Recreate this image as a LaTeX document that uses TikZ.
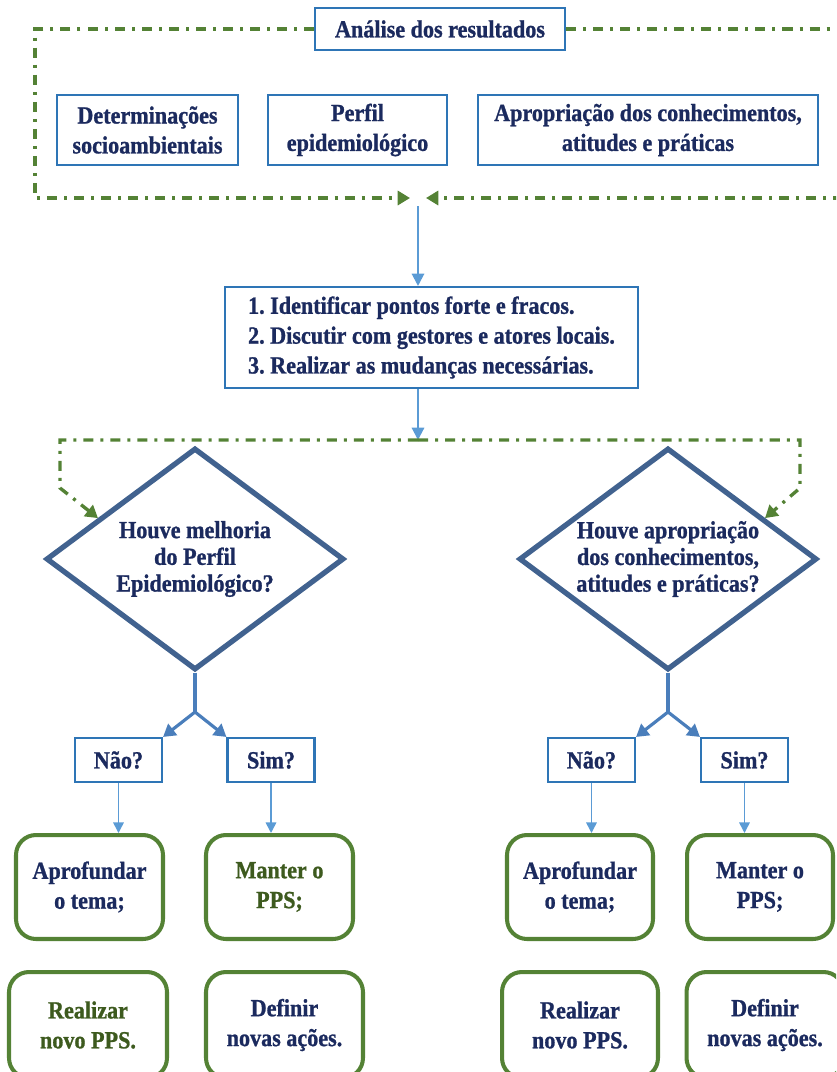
\documentclass[tikz,border=0pt]{standalone}
\usepackage{fontspec}
\setmainfont{Liberation Serif}[FakeStretch=0.9, BoldFeatures={FakeBold=1}]
\usetikzlibrary{shapes.geometric,arrows.meta,calc}
\definecolor{navy}{HTML}{1B2A5E}
\definecolor{boxblue}{HTML}{2E75B6}
\definecolor{dmblue}{HTML}{41628F}
\definecolor{stemblue}{HTML}{4A7EBB}
\definecolor{arblue}{HTML}{5B9BD5}
\definecolor{olive}{HTML}{548235}
\definecolor{olivetxt}{HTML}{3D5A1E}
\frenchspacing
\begin{document}
\begin{tikzpicture}[x=0.02cm, y=-0.02cm,
    box/.style={rectangle, draw=boxblue, line width=1.2pt, fill=white, text=navy, font=\bfseries\fontsize{14}{17}\selectfont, align=center, inner sep=2pt},
    dec/.style={diamond, aspect=1.34, draw=dmblue, line width=3pt, text=navy, font=\bfseries\fontsize{14}{15.2}\selectfont, align=center, minimum width=5.96cm, minimum height=4.44cm, inner sep=0pt},
    act/.style={rectangle, draw=olive, line width=2.3pt, rounded corners=0.4cm, text=navy, font=\bfseries\fontsize{14}{17}\selectfont, align=center},
    frame/.style={draw=olive, line width=1.9pt, dash pattern=on 5.7pt off 4pt on 1.7pt off 4pt, -{Triangle[length=7pt,width=8pt]}},
    stem/.style={draw=stemblue, line width=1.8pt},
    thin/.style={draw=arblue, line width=0.9pt, -{Triangle[length=6pt,width=6pt]}}
  ]
    \useasboundingbox (0,0) rectangle (836,1072);
    \clip (0,0) rectangle (836,1072);
    % analise dos resultados
    \node[box, minimum width=5cm, minimum height=0.84cm] (title) at (440,29) {Análise dos resultados};
    \node[box, minimum width=3.62cm, minimum height=1.4cm] (det) at (147.5,130) {Determinações\\socioambientais};
    \node[box, minimum width=3.58cm, minimum height=1.4cm] (perf) at (357.5,130) {Perfil\\epidemiológico};
    \node[box, minimum width=6.8cm, minimum height=1.4cm] (apr) at (648,130) {Apropriação dos conhecimentos,\\atitudes e práticas};
    \coordinate (fl) at (410,198);
    \coordinate (fr) at (426,198);
    \coordinate (fa) at (418,206);
    \draw[frame] (title.west) -- (35,29) -- (35,198) -- (fl);
    \draw[frame] (title.east) -- (850,29) -- (850,198) -- (fr);
    % acoes
    \node[box, align=left, minimum width=8.26cm, minimum height=2.02cm] (mid) at (431.5,337.5) {1. Identificar pontos forte e fracos.\\2. Discutir com gestores e atores locais.\\3. Realizar as mudanças necessárias.};
    \draw[draw=arblue, line width=1.2pt, -{Triangle[length=7pt,width=7pt]}] (fa) -- (fa |- mid.north);
    \coordinate (split) at (418,440);
    \draw[draw=arblue, line width=1.2pt, -{Triangle[length=7pt,width=7pt]}] (mid.south -| split) -- (split);
    % perguntas
    \node[dec] (dl) at (195,559) {Houve melhoria\\do Perfil\\Epidemiológico?};
    \node[dec] (dr) at (668,559) {Houve apropriação\\dos conhecimentos,\\atitudes e práticas?};
    \draw[frame] (split) -- (60,440) -- (60,488) -- ($(dl.west)!0.36!(dl.north)$);
    \draw[frame] (split) -- (800,440) -- (800,488) -- ($(dr.east)!0.36!(dr.north)$);
    \node[box, minimum width=1.74cm, minimum height=0.88cm] (nl) at (118.5,760) {Não?};
    \node[box, minimum width=1.74cm, minimum height=0.88cm] (sl) at (271,760) {Sim?};
    \node[box, minimum width=1.74cm, minimum height=0.88cm] (nr) at (591.5,760) {Não?};
    \node[box, minimum width=1.74cm, minimum height=0.88cm] (sr) at (744.5,760) {Sim?};
    \coordinate (jl) at (195,712);
    \coordinate (jr) at (668,712);
    \draw[stem] (dl.south) -- (jl);
    \draw[stem, -{Triangle[length=7pt,width=8pt]}] (jl) -- (nl.north east);
    \draw[stem, -{Triangle[length=7pt,width=8pt]}] (jl) -- (sl.north west);
    \draw[stem] (dr.south) -- (jr);
    \draw[stem, -{Triangle[length=7pt,width=8pt]}] (jr) -- (nr.north east);
    \draw[stem, -{Triangle[length=7pt,width=8pt]}] (jr) -- (sr.north west);
    % resultados
    \node[act, minimum width=2.94cm, minimum height=2.08cm] (al) at (89.5,887) {Aprofundar\\o tema;};
    \node[act, text=olivetxt, minimum width=2.94cm, minimum height=2.08cm] (ml) at (279.5,887) {Manter o\\PPS;};
    \node[act, text=olivetxt, minimum width=3.16cm, minimum height=2.12cm] (rl) at (88,1025) {Realizar\\novo PPS.};
    \node[act, minimum width=3.14cm, minimum height=2.12cm] (nal) at (284.5,1025) {Definir\\novas ações.};
    \node[act, minimum width=2.92cm, minimum height=2.08cm] (ar) at (580,887) {Aprofundar\\o tema;};
    \node[act, minimum width=2.92cm, minimum height=2.08cm] (mr) at (760,887) {Manter o\\PPS;};
    \node[act, minimum width=3.12cm, minimum height=2.12cm] (rr) at (580,1025) {Realizar\\novo PPS.};
    \node[act, minimum width=3.14cm, minimum height=2.12cm] (nar) at (765,1025) {Definir\\novas ações.};
    \draw[thin] (nl.south) -- (nl.south |- al.north);
    \draw[thin] (sl.south) -- (sl.south |- ml.north);
    \draw[thin] (nr.south) -- (nr.south |- ar.north);
    \draw[thin] (sr.south) -- (sr.south |- mr.north);
\end{tikzpicture}
\end{document}
